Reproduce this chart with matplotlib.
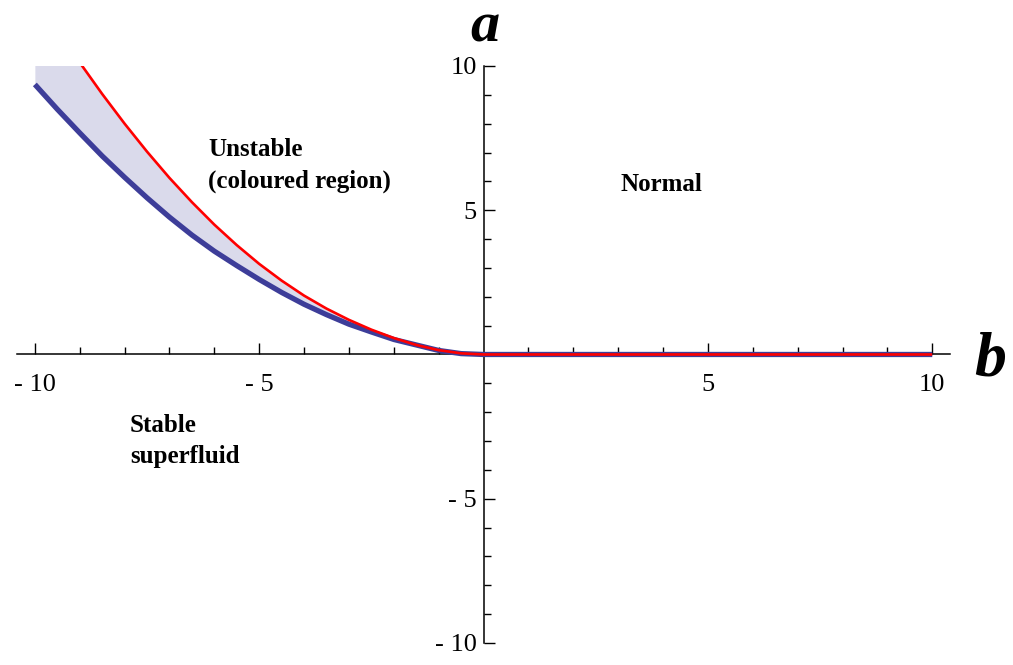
import numpy as np
import matplotlib
matplotlib.use("Agg")
import matplotlib.pyplot as plt

plt.rcParams['font.family'] = ['Liberation Serif', 'DejaVu Serif']

# values
b_neg = [-10, -9.5, -9, -8.5, -8, -7.5, -7, -6.5, -6, -5.5, -5,
         -4.5, -4, -3.5, -3, -2.5, -2, -1.5, -1, -0.5, 0]
a_stable = [9.36, 8.50, 7.68, 6.88, 6.14, 5.43, 4.76, 4.14, 3.58, 3.08, 2.6,
            2.15, 1.74, 1.38, 1.05, 0.78, 0.52, 0.33, 0.14, 0.03, 0]
a_unstable = [12.5, 11.28, 10.12, 9.03, 8.0, 7.03, 6.12, 5.28, 4.5, 3.79, 3.14,
              2.56, 2.04, 1.59, 1.2, 0.86, 0.57, 0.33, 0.15, 0.04, 0]
b_pos = [0, 10]
a_pos = [0, 0]

major = [-10, -5, 5, 10]
major_labels = ['- 10', '- 5', '5', '10']
minor = [v for v in range(-10, 11) if v % 5 != 0]

fig = plt.figure(figsize=(10.13, 6.65), dpi=100)
ax = fig.add_axes([0.0167, 0.0331, 0.9213, 0.8677])

ax.fill_between(b_neg, a_stable, a_unstable, color='#dadaeb', lw=0, zorder=1)
ax.plot(b_neg + b_pos[1:], a_stable + a_pos[1:], color='#3d3d99', lw=3.8,
        solid_capstyle='butt', zorder=3)
ax.plot(b_neg + b_pos[1:], a_unstable + a_pos[1:], color='red', lw=1.9,
        solid_capstyle='butt', zorder=4)

ax.set_xlim(-10.4, 10.4)
ax.set_ylim(-10, 10)

for s in ['top', 'right']:
    ax.spines[s].set_visible(False)
ax.spines['left'].set_position(('data', 0))
ax.spines['bottom'].set_position(('data', 0))
ax.spines['left'].set_bounds(-10, 10)
for s in ['left', 'bottom']:
    ax.spines[s].set_linewidth(1.1)

ax.set_xticks(major)
ax.set_xticklabels(major_labels)
ax.set_yticks(major)
ax.set_yticklabels(major_labels)
ax.set_xticks(minor, minor=True)
ax.set_yticks(minor, minor=True)
ax.tick_params(which='both', direction='in', width=1.0, labelsize=19)
ax.tick_params(which='major', length=8)
ax.tick_params(which='minor', length=5)
ax.tick_params(axis='x', which='major', pad=14)
ax.tick_params(axis='y', which='major', pad=5)

fig.text(0.479, 0.938, 'a', fontsize=42, fontweight='bold', style='italic',
         ha='center', va='baseline')
fig.text(0.977, 0.435, 'b', fontsize=46, fontweight='bold', style='italic',
         ha='center', va='baseline')

kw = dict(fontsize=18, fontweight='bold', ha='left', va='center')
ax.text(-6.14, 6.55, 'Unstable\n(coloured region)', linespacing=1.45, **kw)
ax.text(3.06, 5.89, 'Normal', **kw)
ax.text(-7.88, -3.0, 'Stable\nsuperfluid', linespacing=1.45, **kw)

fig.savefig('out.png', dpi=100)
